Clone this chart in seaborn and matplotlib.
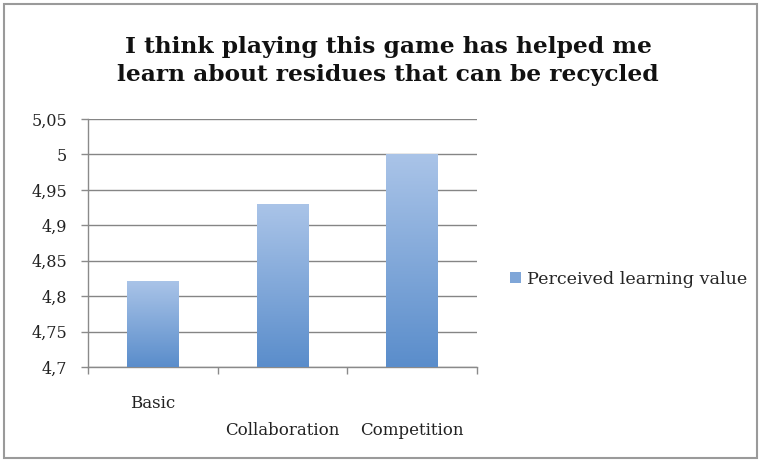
import numpy as np
import pandas as pd
import matplotlib
matplotlib.use("Agg")
import matplotlib.pyplot as plt
import matplotlib.transforms as mtransforms
from matplotlib.colors import LinearSegmentedColormap
from matplotlib.patches import Rectangle, Patch
import seaborn as sns

categories = ["Basic", "Collaboration", "Competition"]
values = [4.822, 4.93, 5.0]
series_name = "Perceived learning value"
title = "I think playing this game has helped me\nlearn about residues that can be recycled"
yticks = [4.7, 4.75, 4.8, 4.85, 4.9, 4.95, 5.0, 5.05]

sns.set_theme(style="white")
plt.rcParams["font.family"] = ["DejaVu Serif", "Liberation Serif"]

df = pd.DataFrame({"category": categories, "value": values})

fig = plt.figure(figsize=(7.61, 4.61), dpi=100)
ax = fig.add_axes([88 / 761, 1 - 367 / 461, (477 - 88) / 761, (367 - 119) / 461])

sns.barplot(data=df, x="category", y="value", ax=ax, width=0.4,
            color="#7fa6d8", saturation=1, zorder=3)

# gradient fill for bars
cmap = LinearSegmentedColormap.from_list("g", ["#5a8dcb", "#aac4e8"])
grad = np.linspace(0, 1, 256).reshape(-1, 1)
for p in list(ax.patches):
    x0, y0 = p.get_x(), p.get_y()
    w, h = p.get_width(), p.get_height()
    im = ax.imshow(grad, cmap=cmap, origin="lower", aspect="auto",
                   extent=(x0, x0 + w, 4.7, y0 + h), zorder=3)
    im.set_clip_path(p)
    p.set_facecolor("none")
    p.set_edgecolor("none")
ax.set_xlim(-0.5, len(categories) - 0.5)
ax.set_ylim(4.7, 5.05)

ax.set_yticks(yticks)
ax.set_yticklabels([("%g" % v).replace(".", ",") for v in yticks])
ax.yaxis.grid(True, color="#858585", linewidth=1.0, zorder=0)
ax.xaxis.grid(False)
ax.set_axisbelow(True)

for s in ["top", "right"]:
    ax.spines[s].set_visible(False)
for s in ["left", "bottom"]:
    ax.spines[s].set_color("#8a8a8a")
    ax.spines[s].set_linewidth(1.0)

ax.tick_params(axis="y", which="major", left=True, length=5, width=1,
               color="#8a8a8a", labelsize=11.5, pad=10, labelcolor="#222222")
ax.set_xticks(range(len(categories)))
ax.set_xticklabels(categories)
ax.set_xticks([-0.5, 0.5, 1.5, 2.5], minor=True)
ax.tick_params(axis="x", which="major", bottom=False, length=0,
               labelsize=12, pad=20, labelcolor="#222222")
ax.tick_params(axis="x", which="minor", bottom=True, length=5, width=1,
               color="#8a8a8a")
ax.set_xlabel("")
ax.set_ylabel("")

offset = mtransforms.ScaledTranslation(0, -27 / 100, fig.dpi_scale_trans)
for i, lab in enumerate(ax.get_xticklabels()):
    if i > 0:
        lab.set_transform(lab.get_transform() + offset)

fig.text(388 / 761, 1 - 61 / 461, title, ha="center", va="center",
         fontsize=16.8, fontweight="bold", color="#111111", linespacing=1.3)

handle = Patch(facecolor="#7fa6d8", edgecolor="none")
fig.legend([handle], [series_name], loc="center left",
           bbox_to_anchor=(510 / 761, 1 - 279 / 461), frameon=False,
           fontsize=12.6, handlelength=0.6, handleheight=0.6,
           handletextpad=0.35, borderaxespad=0, borderpad=0)

fig.patches.append(Rectangle((4 / 761, 3 / 461), 753 / 761, 454 / 461,
                             transform=fig.transFigure, fill=False,
                             edgecolor="#9a9a9a", linewidth=1.5))

fig.savefig("out.png", dpi=100)
